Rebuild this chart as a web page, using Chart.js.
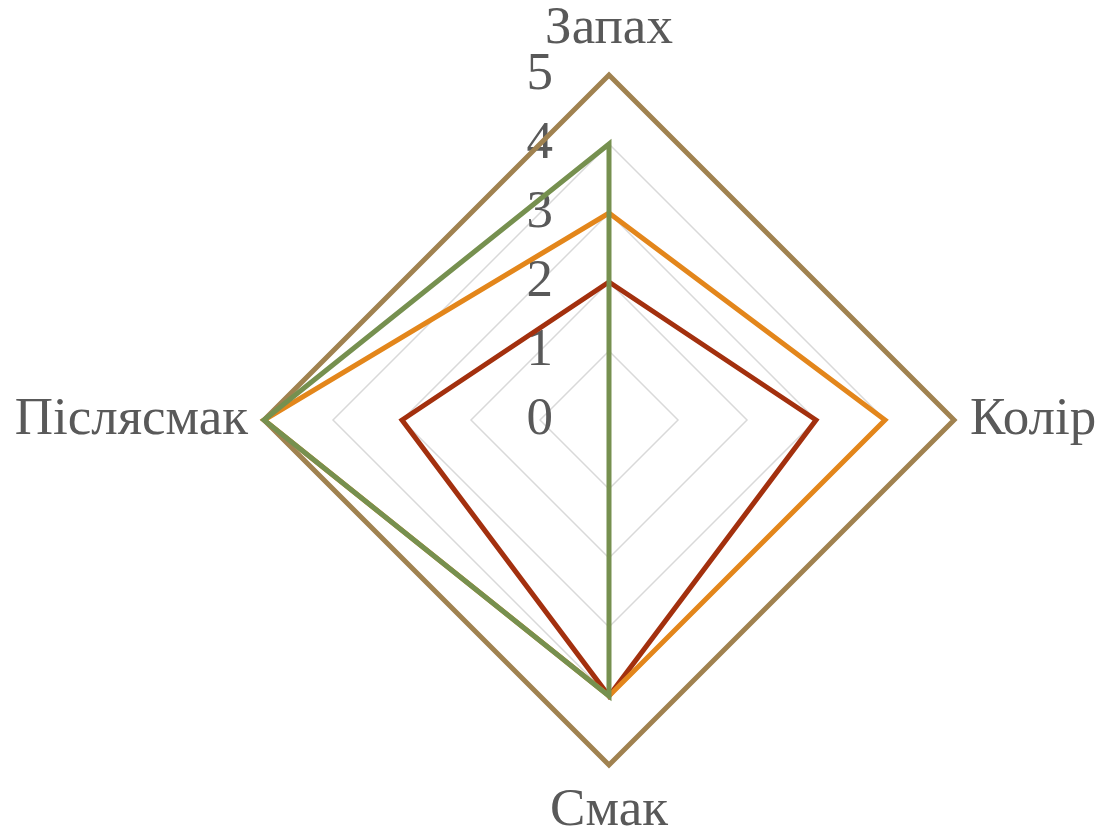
<!DOCTYPE html>
<html lang="uk">
<head>
<meta charset="utf-8">
<title>Оцінка</title>
<script src="https://cdn.jsdelivr.net/npm/chart.js@4/dist/chart.umd.min.js"></script>
<style>
  html, body { margin: 0; padding: 0; background: #fff; }
  #wrap { width: 1101px; height: 836px; position: relative; }
</style>
</head>
<body>
<div id="wrap"><canvas id="grafico-radar"></canvas></div>
<script>
// Показники
const categorias = ['Запах', 'Колір', 'Смак', 'Післясмак'];

// Ряди оцінок
const serieVerde = [4, 0, 4, 5];
const serieDourada = [5, 5, 5, 5];
const serieLaranja = [3, 4, 4, 5];
const serieVermelha = [2, 3, 4, 3];

// Підписи шкали
const rotulosEscala = ['0', '1', '2', '3', '4', '5'];

const corTexto = '#595959';
const fonteSerif = '"Liberation Serif", "Times New Roman", serif';

// Desenha os rótulos da escala e das categorias à mão
const rotulosPlugin = {
    id: 'rotulos',
    beforeDatasetsDraw(chart) {
        const scale = chart.scales.r;
        const ctx = chart.ctx;
        ctx.save();
        ctx.fillStyle = corTexto;
        ctx.font = '53px ' + fonteSerif;
        ctx.textAlign = 'right';
        ctx.textBaseline = 'middle';
        rotulosEscala.forEach(function (txt) {
            const d = scale.getDistanceFromCenterForValue(Number(txt));
            ctx.fillText(txt, scale.xCenter - 56, scale.yCenter - d);
        });
        ctx.restore();
    },
    afterDraw(chart) {
        const scale = chart.scales.r;
        const ctx = chart.ctx;
        ctx.save();
        ctx.fillStyle = corTexto;
        ctx.font = '53px ' + fonteSerif;
        ctx.textBaseline = 'middle';
        categorias.forEach(function (nome, i) {
            const ang = scale.getIndexAngle(i);
            const vertical = Math.abs(Math.sin(ang)) < 0.01;
            const dist = scale.drawingArea + (vertical ? 46 : 16);
            const p = scale.getPointPosition(i, dist);
            if (vertical) {
                ctx.textAlign = 'center';
            } else {
                ctx.textAlign = p.x > scale.xCenter ? 'left' : 'right';
            }
            ctx.fillText(nome, p.x, p.y);
        });
        ctx.restore();
    }
};

const ctx = document.getElementById('grafico-radar').getContext('2d');

const graficoRadar = new Chart(ctx, {
    type: 'radar',
    data: {
        labels: categorias,
        datasets: [
            { label: 'Ряд 4', data: serieVerde, borderColor: '#76904F' },
            { label: 'Ряд 3', data: serieDourada, borderColor: '#A08250' },
            { label: 'Ряд 2', data: serieLaranja, borderColor: '#E3861B' },
            { label: 'Ряд 1', data: serieVermelha, borderColor: '#A3300E' }
        ]
    },
    options: {
        responsive: true,
        maintainAspectRatio: false,
        animation: false,
        layout: {
            padding: { top: 75, bottom: 71, left: 218, right: 101 }
        },
        elements: {
            line: { borderWidth: 5, fill: false, borderJoinStyle: 'miter', tension: 0 },
            point: { radius: 0, hoverRadius: 0 }
        },
        scales: {
            r: {
                min: 0,
                max: 5,
                ticks: { display: false, stepSize: 1 },
                angleLines: { display: false },
                grid: { color: '#D9D9D9', lineWidth: 1.5, circular: false },
                pointLabels: { display: false }
            }
        },
        plugins: {
            legend: { display: false },
            tooltip: { enabled: false }
        }
    },
    plugins: [rotulosPlugin]
});
</script>
</body>
</html>
